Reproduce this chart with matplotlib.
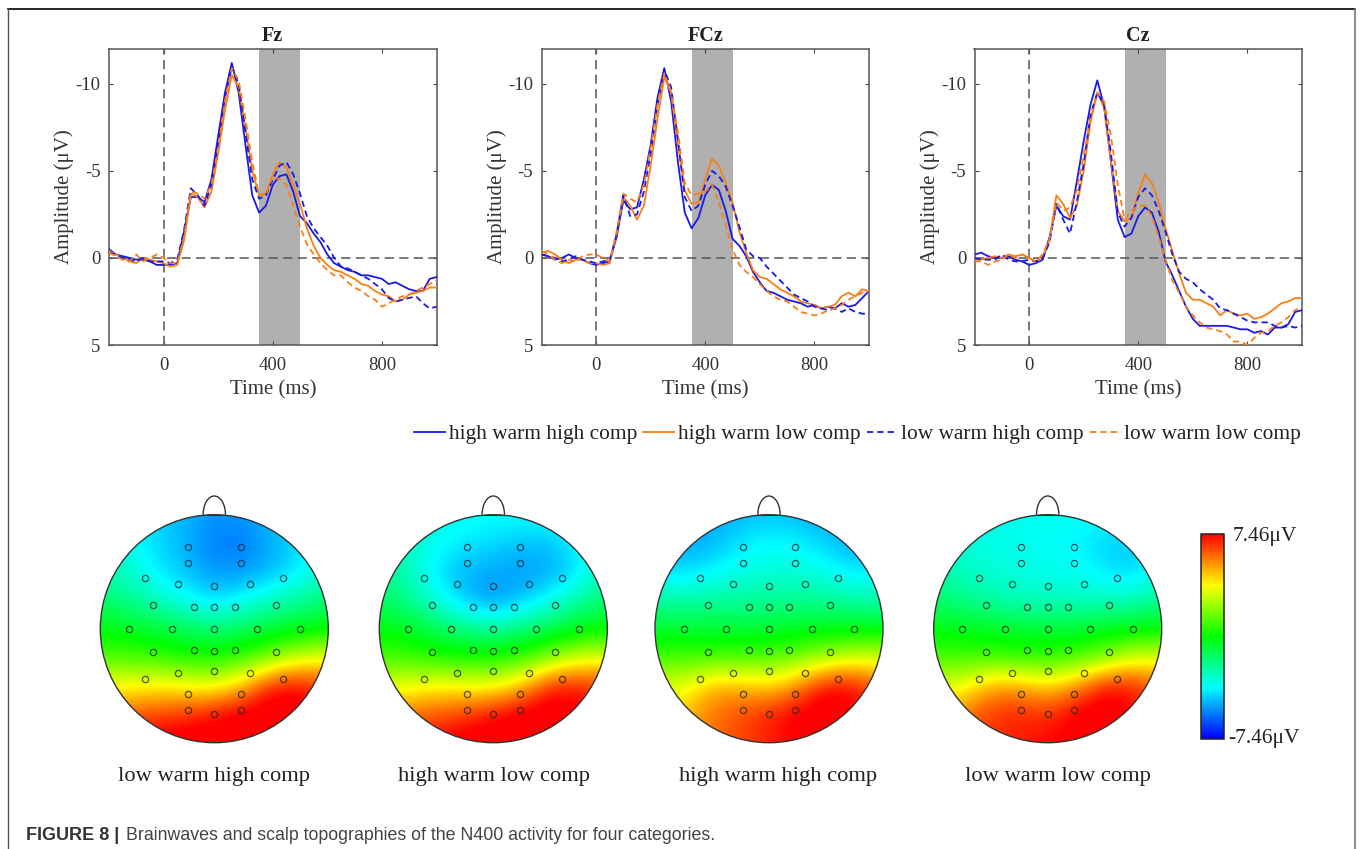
import numpy as np
import matplotlib
matplotlib.use("Agg")
import matplotlib.pyplot as plt
from matplotlib.colors import LinearSegmentedColormap, Normalize
from matplotlib.cm import ScalarMappable
from matplotlib.lines import Line2D
from matplotlib.patches import Arc, Circle

plt.rcParams["font.family"] = ["Liberation Serif", "DejaVu Sans"]

W, H = 1360, 849

# --- waveforms, one value every 25 ms ---
times = np.arange(-200, 1001, 25)
series_names = ["high warm high comp", "high warm low comp", "low warm high comp", "low warm low comp"]

fz_hwhc = [-0.5, -0.2, -0.1, 0.0, 0.1, 0.1, 0.2, 0.4, 0.4, 0.4, 0.3, -1.5, -3.5, -3.5, -3.2, -4.5, -7.0, -9.5, -11.2, -9.5, -6.5, -3.6, -2.6, -3.0, -4.2, -4.7, -4.8, -3.8, -2.4, -2.0, -1.4, -0.9, -0.2, 0.3, 0.5, 0.7, 0.8, 1.0, 1.0, 1.1, 1.2, 1.5, 1.4, 1.6, 1.8, 1.9, 1.9, 1.2, 1.1]
fz_hwlc = [-0.4, -0.2, 0.0, 0.2, 0.3, 0.0, 0.1, 0.2, 0.3, 0.5, 0.4, -1.0, -3.7, -3.5, -2.9, -3.8, -6.0, -8.5, -10.5, -9.8, -7.5, -5.0, -3.6, -3.7, -4.8, -5.5, -5.2, -4.2, -3.1, -1.7, -0.7, 0.0, 0.4, 0.7, 0.8, 1.0, 1.2, 1.5, 1.6, 1.9, 2.1, 2.2, 2.5, 2.4, 2.1, 2.0, 1.9, 1.7, 1.7]
fz_lwhc = [-0.3, -0.2, 0.0, 0.1, 0.2, 0.0, 0.2, 0.2, 0.2, 0.3, 0.1, -1.6, -4.0, -3.6, -3.0, -4.2, -6.6, -9.2, -11.0, -10.0, -7.2, -4.5, -3.4, -3.6, -4.5, -5.3, -5.5, -4.8, -3.7, -2.4, -1.7, -1.2, -0.7, 0.0, 0.5, 0.6, 0.8, 1.0, 1.2, 1.5, 1.8, 2.3, 2.5, 2.4, 2.3, 2.2, 2.6, 2.9, 2.8]
fz_lwlc = [-0.3, -0.1, 0.1, 0.2, -0.2, 0.2, 0.0, -0.2, 0.0, 0.3, 0.3, -1.2, -3.8, -3.7, -3.4, -4.2, -6.2, -9.0, -10.9, -10.2, -8.0, -5.5, -3.6, -3.6, -4.7, -4.5, -4.2, -3.0, -1.8, -0.8, -0.2, 0.3, 0.7, 1.0, 1.0, 1.4, 1.7, 1.9, 2.2, 2.4, 2.8, 2.6, 2.4, 2.2, 2.1, 1.9, 1.7, 1.5, 1.3]

fcz_hwhc = [-0.2, -0.1, 0.1, 0.0, -0.2, 0.0, 0.1, 0.3, 0.4, 0.3, 0.2, -1.2, -3.3, -2.8, -2.9, -4.5, -6.5, -9.2, -10.9, -9.0, -5.5, -2.6, -1.7, -2.3, -3.6, -4.2, -3.9, -2.7, -1.1, -0.7, -0.1, 0.8, 1.4, 1.9, 2.0, 2.2, 2.4, 2.5, 2.6, 2.8, 2.7, 2.9, 2.8, 2.9, 2.6, 2.8, 2.7, 2.3, 1.9]
fcz_hwlc = [-0.3, -0.4, -0.2, 0.1, 0.3, 0.1, 0.1, 0.3, 0.3, 0.4, 0.3, -1.4, -3.5, -3.0, -2.2, -3.0, -5.3, -8.0, -10.4, -9.5, -6.5, -3.9, -3.1, -3.2, -4.5, -5.7, -5.3, -4.3, -3.2, -1.5, -0.3, 0.7, 1.1, 1.2, 1.5, 1.8, 2.0, 2.2, 2.5, 2.6, 2.7, 2.9, 2.8, 2.7, 2.2, 2.0, 2.2, 1.8, 1.9]
fcz_lwhc = [-0.2, -0.1, 0.0, 0.2, 0.1, -0.1, 0.1, 0.2, 0.3, 0.2, 0.1, -1.3, -3.6, -2.4, -2.5, -3.8, -6.0, -8.8, -10.8, -9.8, -6.8, -3.5, -2.7, -3.0, -4.2, -5.0, -4.7, -4.1, -3.0, -1.8, -0.5, -0.1, 0.0, 0.5, 0.9, 1.3, 1.7, 2.1, 2.3, 2.5, 2.8, 2.9, 3.0, 2.9, 3.1, 2.9, 3.1, 3.2, 3.2]
fcz_lwlc = [-0.4, -0.2, 0.1, 0.3, 0.1, 0.2, -0.1, -0.2, -0.2, 0.0, 0.2, -1.5, -3.7, -3.4, -3.2, -4.2, -6.3, -8.8, -10.6, -9.5, -7.2, -4.3, -3.6, -3.7, -3.8, -4.2, -3.2, -1.9, -0.5, 0.4, 0.8, 1.1, 1.5, 1.9, 2.2, 2.4, 2.5, 2.8, 3.1, 3.2, 3.3, 3.2, 3.0, 2.9, 2.7, 2.4, 2.2, 2.0, 1.9]

cz_hwhc = [-0.2, -0.3, -0.1, 0.0, 0.0, -0.1, 0.1, 0.2, 0.4, 0.3, 0.1, -1.2, -3.0, -2.4, -2.2, -4.4, -6.7, -8.8, -10.2, -8.7, -5.5, -2.2, -1.2, -1.4, -2.4, -2.9, -2.6, -1.5, 0.2, 1.0, 1.9, 2.8, 3.5, 3.9, 3.9, 3.9, 3.9, 3.9, 4.0, 4.1, 4.1, 4.3, 4.2, 4.4, 4.0, 4.0, 3.8, 3.1, 3.0]
cz_hwlc = [0.1, 0.1, 0.0, -0.1, 0.0, -0.2, -0.1, -0.2, 0.0, 0.2, -0.1, -1.0, -3.6, -3.1, -2.3, -3.0, -5.0, -7.8, -9.5, -8.6, -5.6, -2.7, -2.1, -2.3, -3.7, -4.8, -4.3, -3.2, -1.7, -0.4, 0.9, 2.0, 2.4, 2.4, 2.6, 2.8, 3.3, 3.0, 3.2, 3.3, 3.2, 3.5, 3.4, 3.2, 2.9, 2.6, 2.5, 2.3, 2.3]
cz_lwhc = [0.0, 0.1, 0.1, 0.1, -0.2, 0.1, 0.2, 0.2, 0.1, 0.2, 0.0, -0.9, -3.1, -2.2, -1.4, -3.2, -5.4, -8.2, -9.5, -8.8, -6.0, -2.6, -1.8, -2.3, -3.5, -4.0, -3.6, -2.7, -1.5, -0.2, 0.8, 1.2, 1.4, 1.8, 2.1, 2.4, 2.9, 3.0, 3.2, 3.4, 3.6, 3.7, 3.7, 3.7, 3.9, 4.0, 3.9, 4.0, 3.9]
cz_lwlc = [0.2, 0.2, 0.4, 0.2, 0.1, -0.2, 0.0, -0.2, 0.0, 0.2, -0.2, -1.1, -3.2, -2.7, -2.9, -3.9, -5.9, -8.0, -9.5, -9.0, -7.0, -4.2, -2.2, -2.7, -3.0, -3.0, -2.4, -1.2, 0.1, 1.3, 2.0, 2.8, 3.3, 3.7, 4.0, 4.1, 4.2, 4.4, 4.8, 4.8, 5.0, 4.6, 4.3, 4.2, 3.9, 3.7, 3.4, 3.0, 2.8]

panel_titles = ["Fz", "FCz", "Cz"]
panel_series = [
    [fz_hwhc, fz_hwlc, fz_lwhc, fz_lwlc],
    [fcz_hwhc, fcz_hwlc, fcz_lwhc, fcz_lwlc],
    [cz_hwhc, cz_hwlc, cz_lwhc, cz_lwlc],
]
panel_left = [109, 541.5, 974.5]

# --- scalp maps: coarse potential grid (uV), rows y = 1 .. -1, columns x = -1 .. 1 ---
map_labels = ["low warm high comp", "high warm low comp", "high warm high comp", "low warm low comp"]
map_center_x = [214.3, 493.3, 769, 1047.7]
label_center_x = [214, 494, 778, 1057.5]

map_lwhc = [
    [-4.2, -4.2, -4.4, -4.8, -5.2, -5.2, -4.8, -4.4, -4.2],
    [-2.8, -3.4, -4.2, -4.8, -5.7, -5.7, -4.8, -4.2, -2.8],
    [-2.4, -3.0, -4.0, -4.6, -5.2, -5.2, -4.8, -4.0, -2.9],
    [-1.6, -2.0, -2.8, -3.6, -4.3, -3.7, -2.8, -2.2, -1.6],
    [-0.3, -0.5, -0.8, -1.3, -1.6, -1.3, -0.8, -0.5, -0.3],
    [1.2, 1.0, 0.7, 0.4, 0.3, 0.7, 1.7, 3.0, 3.4],
    [3.6, 3.7, 4.0, 3.6, 3.4, 4.6, 7.2, 7.4, 6.4],
    [5.8, 6.0, 6.4, 6.8, 7.4, 8.0, 8.2, 8.0, 7.5],
    [8.0, 8.0, 8.0, 8.0, 8.0, 8.0, 8.0, 8.0, 8.0],
]
map_hwlc = [
    [-3.0, -3.0, -3.3, -3.5, -3.6, -3.6, -3.5, -3.3, -3.0],
    [-2.2, -2.8, -3.5, -4.0, -4.2, -4.6, -4.6, -3.7, -2.7],
    [-2.0, -2.7, -4.1, -4.8, -5.0, -5.2, -5.0, -4.2, -2.6],
    [-1.4, -2.0, -3.3, -4.6, -5.4, -4.6, -3.6, -2.3, -1.5],
    [-0.2, -0.5, -1.2, -1.9, -2.3, -1.8, -1.1, -0.5, -0.2],
    [1.0, 0.8, 0.4, 0.2, 0.3, 0.7, 1.8, 3.0, 3.2],
    [3.3, 3.4, 3.8, 3.6, 3.4, 4.6, 7.0, 7.2, 6.4],
    [5.5, 5.8, 6.2, 6.6, 7.4, 8.0, 8.2, 7.6, 7.0],
    [7.0, 7.0, 7.5, 8.0, 8.0, 8.0, 8.0, 7.5, 7.0],
]
map_hwhc = [
    [-5.0, -5.0, -5.0, -4.8, -4.6, -4.8, -5.0, -5.0, -5.0],
    [-5.0, -5.0, -4.8, -4.0, -3.6, -3.8, -4.4, -5.0, -5.0],
    [-4.0, -4.3, -3.8, -3.4, -3.2, -3.2, -3.5, -4.0, -4.0],
    [-2.3, -2.5, -2.3, -2.3, -2.2, -2.1, -2.2, -2.5, -2.5],
    [-0.7, -0.7, -0.7, -0.8, -0.8, -0.5, -0.4, -0.4, -0.4],
    [1.0, 0.9, 0.9, 1.0, 1.1, 1.6, 2.3, 3.0, 3.0],
    [3.2, 3.4, 4.8, 4.8, 4.2, 5.4, 7.4, 7.4, 5.8],
    [3.6, 4.6, 5.8, 6.4, 7.0, 7.8, 8.2, 7.6, 6.0],
    [4.0, 5.0, 5.8, 6.4, 7.0, 7.5, 7.5, 6.5, 5.5],
]
map_lwlc = [
    [-3.0, -3.1, -3.3, -3.4, -3.5, -3.5, -3.5, -3.5, -3.3],
    [-3.0, -3.2, -3.4, -3.5, -3.6, -3.8, -4.4, -4.6, -3.5],
    [-2.5, -2.8, -3.1, -3.3, -3.4, -3.5, -4.0, -4.4, -3.5],
    [-1.6, -1.9, -2.4, -2.7, -2.9, -2.9, -2.9, -2.7, -2.0],
    [-0.2, -0.4, -0.5, -0.7, -0.8, -0.7, -0.5, -0.4, -0.2],
    [1.0, 0.9, 0.8, 0.6, 0.6, 0.9, 1.7, 3.0, 3.2],
    [3.2, 3.4, 5.0, 5.0, 4.2, 5.2, 7.2, 7.2, 5.8],
    [4.4, 5.6, 6.8, 7.0, 6.8, 7.8, 8.2, 7.4, 6.0],
    [5.5, 6.0, 6.6, 7.0, 7.4, 7.6, 7.6, 7.0, 6.0],
]
map_values = [map_lwhc, map_hwlc, map_hwhc, map_lwlc]

# electrodes, in head radii from the centre
elec_x = [-0.231, 0.231, -0.231, 0.231, -0.605, 0.605, -0.316, 0.0, 0.316,
          -0.538, -0.178, 0.0, 0.178, 0.538, -0.749, -0.374, 0.0, 0.374, 0.749,
          -0.538, -0.178, 0.0, 0.178, 0.538, -0.316, 0.0, 0.316, -0.605, 0.605,
          -0.231, 0.231, -0.231, 0.0, 0.231]
elec_y = [0.713, 0.713, 0.576, 0.576, 0.444, 0.444, 0.389, 0.377, 0.389,
          0.208, 0.187, 0.193, 0.187, 0.208, 0.0, 0.0, 0.0, 0.0, 0.0,
          -0.205, -0.184, -0.193, -0.184, -0.205, -0.389, -0.374, -0.389, -0.442, -0.442,
          -0.573, -0.573, -0.713, -0.751, -0.713]

vmax = 7.46
cmap = LinearSegmentedColormap.from_list("scalp", ["#0000ff", "#00ffff", "#00ff00", "#ffff00", "#ff0000"])

BLUE = "#1a1ae6"
ORANGE = "#f97f14"
styles = [(BLUE, "-"), (ORANGE, "-"), (BLUE, (0, (3.5, 2.2))), (ORANGE, (0, (3.5, 2.2)))]
TXT = "#333333"


def px_axes(fig, left, top, w, h):
    # axes placed by pixel box, y counted from top of the image
    return fig.add_axes([left / W, 1 - (top + h) / H, w / W, h / H])


fig = plt.figure(figsize=(W / 100, H / 100), dpi=100)

# outer frame of the figure box
fig.add_artist(Line2D([8 / W, 1355 / W], [1 - 9 / H, 1 - 9 / H], color="black", lw=1.2))
fig.add_artist(Line2D([8 / W, 8 / W], [0, 1 - 9 / H], color="#555555", lw=1.0))
fig.add_artist(Line2D([1355 / W, 1355 / W], [0, 1 - 9 / H], color="#777777", lw=1.2))

# waveforms
for left, title, series in zip(panel_left, panel_titles, panel_series):
    ax = px_axes(fig, left, 49, 327.5, 296)
    ax.axvspan(350, 500, color="#b0b0b0", lw=0, zorder=1)
    ax.axhline(0, color="#555555", lw=1.1, dashes=(6, 3.5), zorder=2)
    ax.axvline(0, color="#555555", lw=1.1, dashes=(6, 3.5), zorder=2)
    for values, (color, ls), name in zip(series, styles, series_names):
        ax.plot(times, values, color=color, ls=ls, lw=1.3, label=name, zorder=3)
    ax.set_xlim(-200, 1000)
    ax.set_ylim(5, -12)
    ax.set_xticks([0, 400, 800])
    ax.set_yticks([-10, -5, 0, 5])
    ax.set_yticklabels(["-10", "-5", "0", "5"])
    ax.tick_params(direction="in", top=True, right=True, length=3, width=0.8, color="#444444",
                   labelcolor=TXT, labelsize=13.5)
    ax.tick_params(axis="x", pad=9)
    ax.tick_params(axis="y", pad=6)
    for spine in ax.spines.values():
        spine.set_color("#555555")
        spine.set_linewidth(1.1)
    ax.set_xlabel("Time (ms)", fontsize=15, color=TXT, labelpad=4)
    ax.set_ylabel("Amplitude (\u03bcV)", fontsize=15, color=TXT, labelpad=1)
    ax.set_title(title, fontsize=14.5, fontweight="bold", color="#222222", pad=6)

handles, names = ax.get_legend_handles_labels()
fig.legend(handles, names, ncol=4, loc="center right", bbox_to_anchor=(1301 / W, 1 - 434 / H),
           frameon=False, fontsize=15.4, handlelength=1.45, handletextpad=0.15, columnspacing=0.3,
           labelcolor="#222222", borderpad=0, borderaxespad=0)

# scalp maps
R = 114
for cx, lx, label, values in zip(map_center_x, label_center_x, map_labels, map_values):
    ax = px_axes(fig, cx - 1.02 * R, 628.7 - 1.2 * R, 2.04 * R, 2.22 * R)
    im = ax.imshow(values, extent=(-1.125, 1.125, -1.125, 1.125), cmap=cmap, vmin=-vmax, vmax=vmax,
                   interpolation="bicubic", aspect="equal", zorder=1)
    head = Circle((0, 0), 1, transform=ax.transData, fc="none", ec="#333333", lw=1.0, zorder=3)
    ax.add_patch(head)
    im.set_clip_path(head)
    ax.add_patch(Arc((0, 1.0), 0.196, 0.328, theta1=0, theta2=180, ec="#333333", lw=1.0, zorder=3))
    ax.plot([-0.098, 0.098], [1.0, 1.0], color="#333333", lw=0.8, zorder=3)
    ax.plot(elec_x, elec_y, ls="none", marker="o", ms=4.5, mfc="none", mec="#222222", mew=0.9, alpha=0.75, zorder=4)
    ax.set_xlim(-1.02, 1.02)
    ax.set_ylim(-1.02, 1.2)
    ax.axis("off")
    fig.text(lx / W, 1 - 777 / H, label, ha="center", va="center", fontsize=16.2, color="#222222")

# colour bar
cax = px_axes(fig, 1201, 534, 23, 204.5)
cb = fig.colorbar(ScalarMappable(Normalize(-vmax, vmax), cmap), cax=cax)
cb.set_ticks([])
cb.outline.set_edgecolor("#222222")
cb.outline.set_linewidth(1.1)
fig.text(1233 / W, 1 - 536 / H, "7.46\u03bcV", ha="left", va="center", fontsize=15.5, color="#222222")
fig.text(1228 / W, 1 - 739 / H, "-7.46\u03bcV", ha="left", va="center", fontsize=15.5, color="#222222")

# caption
fig.text(26 / W, 1 - 836 / H, "FIGURE 8 |", family="Liberation Sans", fontweight="bold", fontsize=13,
         color="#333333", ha="left", va="center")
fig.text(126 / W, 1 - 836 / H, "Brainwaves and scalp topographies of the N400 activity for four categories.",
         family="Liberation Sans", fontsize=12.8, color="#444444", ha="left", va="center")

fig.savefig("out.png", dpi=100)
plt.close(fig)
